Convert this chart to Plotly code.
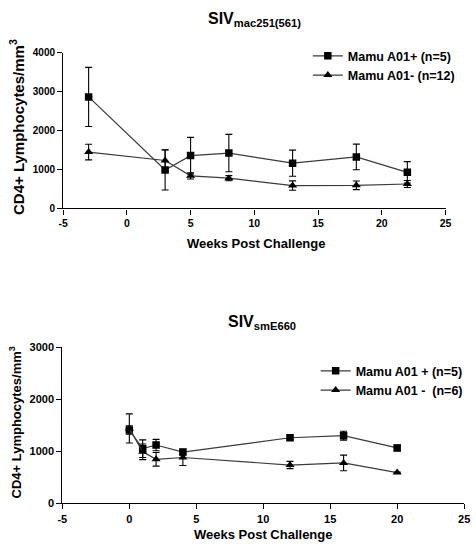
import plotly.graph_objects as go

# Top panel: SIVmac251(561)
weeks_top = [-3, 3, 5, 8, 13, 18, 22]
pos_top = [2870, 990, 1360, 1425, 1165, 1325, 930]
pos_top_err = [760, 515, 470, 480, 335, 330, 275]
neg_top = [1450, 1235, 840, 780, 590, 595, 630]
neg_top_err = [200, 275, 80, 65, 120, 110, 90]

# Bottom panel: SIVsmE660
weeks_bot = [0, 1, 2, 4, 12, 16, 20]
pos_bot = [1410, 1050, 1120, 985, 1260, 1300, 1065]
pos_bot_err = [80, 170, 110, 55, 40, 85, 55]
neg_bot = [1440, 990, 845, 880, 735, 775, 590]
neg_bot_err = [280, 150, 130, 155, 70, 150, 10]

labels_top = ["Mamu A01+ (n=5)", "Mamu A01- (n=12)"]
labels_bot = ["Mamu A01 + (n=5)", "Mamu A01 -&nbsp;&nbsp;(n=6)"]

x_tickvals = [-5, 0, 5, 10, 15, 20, 25]
x_ticktext = ["-5", "0", "5", "10", "15", "20", "25"]
y_ticks_top = [0, 1000, 2000, 3000, 4000]
y_ticks_bot = [0, 1000, 2000, 3000]

FONT = "Liberation Sans, Arial, sans-serif"
LINE_COL = "#3a3a3a"

fig = go.Figure()

def add(x, y, e, name, symbol, size, xa, ya, legend):
    fig.add_trace(go.Scatter(
        x=x, y=y, name=name, mode="lines+markers",
        xaxis=xa, yaxis=ya, legend=legend,
        line=dict(color=LINE_COL, width=1.2),
        marker=dict(symbol=symbol, size=size, color="black"),
        error_y=dict(type="data", array=e, visible=True, color="black",
                     thickness=1.1, width=3.5),
    ))

add(weeks_top, pos_top, pos_top_err, labels_top[0], "square", 7.5, "x", "y", "legend")
add(weeks_top, neg_top, neg_top_err, labels_top[1], "triangle-up", 8, "x", "y", "legend")
add(weeks_bot, pos_bot, pos_bot_err, labels_bot[0], "square", 7.5, "x2", "y2", "legend2")
add(weeks_bot, neg_bot, neg_bot_err, labels_bot[1], "triangle-up", 8, "x2", "y2", "legend2")

def axis_common(fs):
    return dict(
        showline=True, linecolor="black", linewidth=1.2, ticks="outside",
        ticklen=5, tickcolor="black", tickwidth=1, showgrid=False, zeroline=False,
        tickfont=dict(family=FONT, size=fs, color="black", weight="bold"),
    )

W, H = 476, 550
fig.update_layout(
    width=W, height=H, margin=dict(l=0, r=0, t=0, b=0),
    paper_bgcolor="white", plot_bgcolor="white",
    font=dict(family=FONT, color="black"),
    xaxis=dict(domain=[59.5 / W, 451 / W], anchor="y", range=[-5, 25],
               tickvals=x_tickvals, ticktext=x_ticktext, **axis_common(10.5)),
    yaxis=dict(domain=[1 - 207 / H, 1 - 48 / H], anchor="x", range=[0, 4000],
               tickvals=y_ticks_top, **axis_common(10)),
    xaxis2=dict(domain=[58.7 / W, 470 / W], anchor="y2", range=[-5, 25],
                tickvals=x_tickvals, ticktext=x_ticktext, **axis_common(11)),
    yaxis2=dict(domain=[1 - 508.3 / H, 1 - 349 / H], anchor="x2", range=[0, 3000],
                tickvals=y_ticks_bot, **axis_common(11)),
    legend=dict(x=310 / W, y=1 - 36 / H, xanchor="left", yanchor="top",
                bgcolor="rgba(0,0,0,0)", tracegroupgap=0,
                font=dict(family=FONT, size=12.5, color="black", weight="bold")),
    legend2=dict(x=318 / W, y=1 - 358 / H, xanchor="left", yanchor="top",
                 bgcolor="rgba(0,0,0,0)", tracegroupgap=0,
                 font=dict(family=FONT, size=12.5, color="black", weight="bold")),
    showlegend=True,
)

def ann(text, x, y, size, angle=0):
    fig.add_annotation(text=text, x=x / W, y=1 - y / H, xref="paper", yref="paper",
                       showarrow=False, textangle=angle, xanchor="center", yanchor="middle",
                       font=dict(family=FONT, size=size, color="black", weight="bold"))

ann("SIV<sub>mac251(561)</sub>", 255, 14, 16)
ann("SIV<sub>smE660</sub>", 263, 324, 16)
ann("CD4+ Lymphocytes/mm<sup>3</sup>", 12, 124, 15, -90)
ann("CD4+ Lymphocytes/mm<sup>3</sup>", 10, 426, 13, -90)
ann("Weeks Post Challenge", 257, 243, 13)
ann("Weeks Post Challenge", 264, 540, 13)

fig.write_html("out.html")
